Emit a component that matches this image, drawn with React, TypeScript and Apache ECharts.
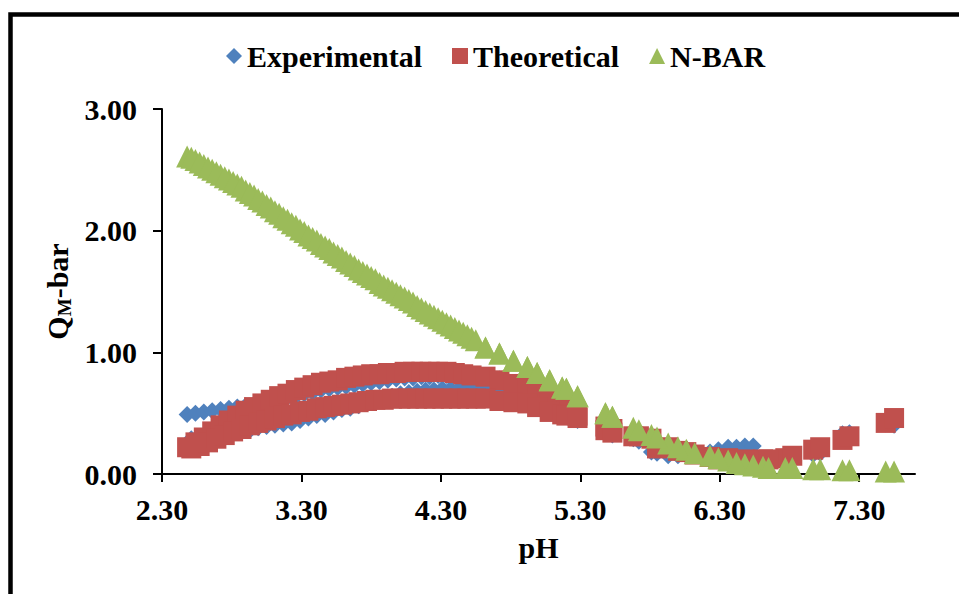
import React, { useEffect, useRef } from 'react';
import * as echarts from 'echarts';

// ---- data ----
const seriesNames = ['Experimental', 'Theoretical', 'N-BAR'];
const xTicks = [2.3, 3.3, 4.3, 5.3, 6.3, 7.3];
const yTicks = [0, 1, 2, 3];

// run A
const phA = [2.48, 2.54, 2.60, 2.66, 2.72, 2.78, 2.84, 2.90, 2.96, 3.02, 3.08, 3.14, 3.20, 3.26, 3.32, 3.38, 3.44, 3.50, 3.56, 3.62, 3.68, 3.74, 3.80, 3.86, 3.92, 3.98, 4.04, 4.10, 4.16, 4.22, 4.28, 4.34, 4.40, 4.46, 4.52,
  4.62, 4.72, 4.82, 4.92, 4.99, 5.08, 5.17, 5.20, 5.28, 5.48, 5.53,
  5.68, 5.81, 5.93, 6.06, 6.23, 6.36, 6.48, 6.61, 6.77, 6.97, 7.18, 7.49];
const expA = [0.49, 0.50, 0.51, 0.52, 0.53, 0.54, 0.55, 0.56, 0.57, 0.58, 0.60, 0.61, 0.63, 0.64, 0.66, 0.67, 0.69, 0.70, 0.71, 0.72, 0.73, 0.74, 0.75, 0.76, 0.77, 0.78, 0.79, 0.79, 0.80, 0.80, 0.81, 0.81, 0.82, 0.82, 0.82,
  0.81, 0.78, 0.74, 0.70, 0.66, 0.60, 0.55, 0.53, 0.49, 0.38, 0.36,
  0.29, 0.18, 0.15, 0.16, 0.18, 0.22, 0.23, 0.13, 0.12, 0.16, 0.33, 0.41];
const theoA = [0.22, 0.26, 0.30, 0.35, 0.40, 0.44, 0.48, 0.52, 0.55, 0.58, 0.61, 0.64, 0.66, 0.69, 0.71, 0.73, 0.75, 0.76, 0.77, 0.79, 0.80, 0.81, 0.82, 0.82, 0.83, 0.83, 0.84, 0.84, 0.84, 0.84, 0.84, 0.84, 0.83, 0.82, 0.81,
  0.80, 0.77, 0.74, 0.71, 0.66, 0.60, 0.55, 0.52, 0.48, 0.39, 0.37,
  0.31, 0.29, 0.22, 0.18, 0.14, 0.13, 0.12, 0.12, 0.13, 0.20, 0.28, 0.42];
const nbarA = [2.61, 2.58, 2.54, 2.50, 2.46, 2.42, 2.38, 2.33, 2.29, 2.24, 2.19, 2.14, 2.09, 2.04, 1.99, 1.94, 1.89, 1.85, 1.80, 1.75, 1.71, 1.66, 1.62, 1.57, 1.53, 1.49, 1.45, 1.41, 1.36, 1.32, 1.28, 1.24, 1.20, 1.16, 1.12,
  1.04, 0.99, 0.93, 0.88, 0.83, 0.77, 0.71, 0.70, 0.64, 0.50, 0.47,
  0.38, 0.32, 0.25, 0.20, 0.15, 0.11, 0.08, 0.06, 0.05, 0.04, 0.03, 0.02];

// run B
const phB = [2.51, 2.57, 2.63, 2.69, 2.75, 2.81, 2.87, 2.93, 2.99, 3.05, 3.11, 3.17, 3.23, 3.29, 3.35, 3.41, 3.47, 3.53, 3.59, 3.65, 3.71, 3.77, 3.83, 3.89, 3.95, 4.01, 4.07, 4.13, 4.19, 4.25, 4.31, 4.37, 4.43, 4.49, 4.55,
  4.62, 4.72, 4.82, 4.92, 4.99, 5.08, 5.17, 5.20, 5.28, 5.48, 5.53,
  5.72, 5.85, 6.00, 6.12, 6.29, 6.42, 6.54, 6.65, 6.82, 7.02, 7.23, 7.55];
const expB = [0.29, 0.30, 0.31, 0.32, 0.33, 0.34, 0.35, 0.36, 0.38, 0.39, 0.40, 0.41, 0.42, 0.44, 0.46, 0.48, 0.49, 0.51, 0.53, 0.54, 0.56, 0.58, 0.60, 0.62, 0.64, 0.66, 0.67, 0.68, 0.69, 0.69, 0.70, 0.70, 0.70, 0.70, 0.70,
  0.70, 0.68, 0.66, 0.62, 0.58, 0.52, 0.48, 0.47, 0.44, 0.34, 0.32,
  0.27, 0.17, 0.15, 0.17, 0.20, 0.22, 0.23, 0.11, 0.13, 0.17, 0.34, 0.40];
const theoB = [0.21, 0.23, 0.26, 0.29, 0.32, 0.35, 0.37, 0.40, 0.42, 0.44, 0.46, 0.48, 0.49, 0.51, 0.52, 0.54, 0.55, 0.56, 0.57, 0.58, 0.59, 0.60, 0.61, 0.61, 0.62, 0.62, 0.62, 0.62, 0.62, 0.62, 0.62, 0.62, 0.62, 0.62, 0.62,
  0.62, 0.60, 0.59, 0.58, 0.55, 0.51, 0.49, 0.48, 0.46, 0.36, 0.34,
  0.31, 0.21, 0.19, 0.16, 0.12, 0.11, 0.11, 0.12, 0.15, 0.22, 0.31, 0.46];
const nbarB = [2.60, 2.56, 2.52, 2.48, 2.44, 2.40, 2.36, 2.31, 2.26, 2.21, 2.16, 2.11, 2.06, 2.01, 1.96, 1.92, 1.87, 1.82, 1.78, 1.73, 1.68, 1.64, 1.60, 1.55, 1.51, 1.47, 1.43, 1.38, 1.34, 1.30, 1.26, 1.22, 1.18, 1.14, 1.10,
  1.04, 0.99, 0.93, 0.88, 0.83, 0.77, 0.71, 0.70, 0.64, 0.50, 0.47,
  0.36, 0.30, 0.22, 0.17, 0.13, 0.09, 0.07, 0.05, 0.05, 0.04, 0.03, 0.02];

const FONT = "'Liberation Serif', 'Times New Roman', serif";
const COLORS = ['#4F81BD', '#C0504D', '#9BBB59'];

const pairs = (xs: number[], ys: number[]) => xs.map((x, i) => [x, ys[i]]);

export default function App() {
  const ref = useRef<HTMLDivElement>(null);
  useEffect(() => {
    if (!ref.current) return;
    const chart = echarts.init(ref.current, undefined, { renderer: 'svg' });
    const labelStyle = { fontFamily: FONT, fontWeight: 'bold' as const, fontSize: 30, color: '#000' };
    chart.setOption({
      animation: false,
      backgroundColor: '#fff',
      color: COLORS,
      graphic: [
        {
          type: 'rect',
          shape: { x: 10.5, y: 14.5, width: 1200, height: 900 },
          style: { fill: 'none', stroke: '#000', lineWidth: 4.5 },
          silent: true,
        },
      ],
      legend: {
        left: 226,
        top: 41,
        padding: 0,
        itemGap: 30,
        itemWidth: 16,
        itemHeight: 16,
        textStyle: labelStyle,
        data: [
          { name: seriesNames[0], icon: 'diamond' },
          { name: seriesNames[1], icon: 'rect' },
          { name: seriesNames[2], icon: 'triangle' },
        ],
      },
      grid: { left: 162, right: 44, top: 109, bottom: 120, containLabel: false },
      xAxis: {
        type: 'value',
        min: 2.3,
        max: 7.7,
        interval: 1,
        name: 'pH',
        nameLocation: 'middle',
        nameGap: 58,
        nameTextStyle: labelStyle,
        axisLine: { show: true, onZero: false, lineStyle: { color: '#000', width: 2 } },
        axisTick: { show: true, length: 8, customValues: xTicks, lineStyle: { color: '#000', width: 2 } },
        axisLabel: { ...labelStyle, margin: 20, customValues: xTicks, formatter: (v: number) => v.toFixed(2) },
        splitLine: { show: false },
      },
      yAxis: {
        type: 'value',
        min: 0,
        max: 3,
        interval: 1,
        name: '{q|Q}{sub|M}{q|-bar}',
        nameLocation: 'middle',
        nameGap: 85,
        nameTextStyle: {
          rich: {
            q: { fontFamily: FONT, fontWeight: 'bold', fontSize: 30, color: '#000', lineHeight: 32 },
            sub: { fontFamily: FONT, fontWeight: 'bold', fontSize: 19, color: '#000', verticalAlign: 'bottom', lineHeight: 22 },
          },
        },
        axisLine: { show: true, lineStyle: { color: '#000', width: 2 } },
        axisTick: { show: true, length: 9, customValues: yTicks, lineStyle: { color: '#000', width: 2 } },
        axisLabel: { ...labelStyle, margin: 25, customValues: yTicks, formatter: (v: number) => v.toFixed(2) },
        splitLine: { show: false },
      },
      series: [
        {
          name: seriesNames[0],
          type: 'scatter',
          symbol: 'diamond',
          symbolSize: 17,
          itemStyle: { color: COLORS[0], opacity: 1 },
          data: [...pairs(phA, expA), ...pairs(phB, expB)],
          z: 2,
        },
        {
          name: seriesNames[1],
          type: 'scatter',
          symbol: 'rect',
          symbolSize: 20,
          itemStyle: { color: COLORS[1], opacity: 1 },
          data: [...pairs(phA, theoA), ...pairs(phB, theoB)],
          z: 3,
        },
        {
          name: seriesNames[2],
          type: 'scatter',
          symbol: 'triangle',
          symbolSize: 22,
          itemStyle: { color: COLORS[2], opacity: 1 },
          data: [...pairs(phA, nbarA), ...pairs(phB, nbarB)],
          z: 4,
        },
      ],
    });
    return () => chart.dispose();
  }, []);
  return <div ref={ref} style={{ position: 'fixed', left: 0, top: 0, width: 959, height: 594 }} />;
}
